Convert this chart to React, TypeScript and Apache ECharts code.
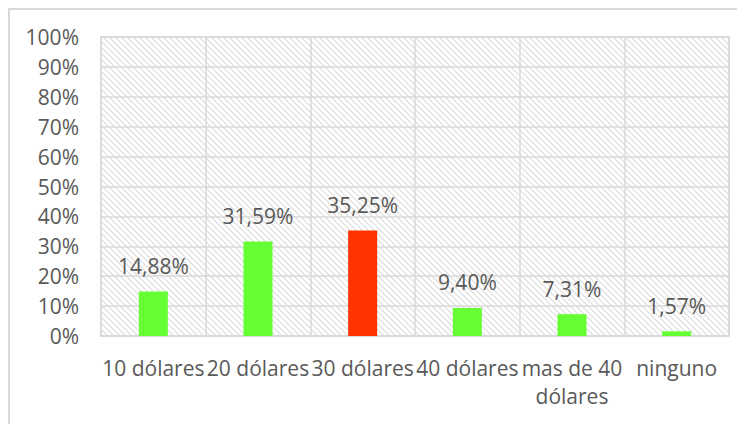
import React, { useEffect, useRef } from "react";
import * as echarts from "echarts";

const categories = ["10 dólares", "20 dólares", "30 dólares", "40 dólares", "mas de 40 dólares", "ninguno"];
const values = [14.88, 31.59, 35.25, 9.4, 7.31, 1.57];
const barColors = ["#66ff33", "#66ff33", "#ff3300", "#66ff33", "#66ff33", "#66ff33"];
const yTicks = [0, 10, 20, 30, 40, 50, 60, 70, 80, 90, 100];

function makeHatch(): string {
  const s = 6;
  const c = document.createElement("canvas");
  c.width = s;
  c.height = s;
  const ctx = c.getContext("2d")!;
  ctx.fillStyle = "#ffffff";
  ctx.fillRect(0, 0, s, s);
  ctx.strokeStyle = "#dcdcdc";
  ctx.lineWidth = 1.2;
  ctx.beginPath();
  ctx.moveTo(-1, -1);
  ctx.lineTo(s + 1, s + 1);
  ctx.moveTo(-1, s - 1);
  ctx.lineTo(1, s + 1);
  ctx.moveTo(s - 1, -1);
  ctx.lineTo(s + 1, 1);
  ctx.stroke();
  return c.toDataURL();
}

export default function App() {
  const ref = useRef<HTMLDivElement>(null);
  useEffect(() => {
    if (!ref.current) return;
    const chart = echarts.init(ref.current, undefined, { renderer: "svg" });
    const font = "'Open Sans', sans-serif";
    const txt = "#595959";
    chart.setOption({
      animation: false,
      graphic: [
        {
          type: "rect",
          shape: { x: 1, y: 1, width: 900, height: 900 },
          style: { fill: "none", stroke: "#d9d9d9", lineWidth: 2 },
          silent: true,
        },
      ],
      grid: {
        left: 93,
        top: 29,
        right: 16,
        bottom: 88,
        show: true,
        borderColor: "#d9d9d9",
        borderWidth: 1.5,
        backgroundColor: { image: makeHatch(), repeat: "repeat", imageWidth: 6, imageHeight: 6 } as any,
      },
      xAxis: {
        type: "category",
        data: categories,
        axisLine: { show: true, lineStyle: { color: "#d9d9d9", width: 1.5 } },
        axisTick: { show: false },
        splitLine: { show: true, lineStyle: { color: "#d9d9d9", width: 1.5 } },
        axisLabel: {
          interval: 0,
          color: txt,
          fontFamily: font,
          fontSize: 21,
          lineHeight: 28,
          margin: 18,
          formatter: (v: string) => (v === "mas de 40 dólares" ? "mas de 40\ndólares" : v),
        },
      },
      yAxis: {
        type: "value",
        min: yTicks[0],
        max: yTicks[yTicks.length - 1],
        interval: 10,
        axisLine: { show: false },
        axisTick: { show: false },
        splitLine: { show: true, lineStyle: { color: "#d9d9d9", width: 1.5 } },
        axisLabel: {
          color: txt,
          fontFamily: font,
          fontSize: 21,
          margin: 22,
          formatter: (v: number) => v + "%",
        },
      },
      series: [
        {
          type: "bar",
          barWidth: 29,
          data: values.map((v, i) => ({ value: v, itemStyle: { color: barColors[i] } })),
          label: {
            show: true,
            position: "top",
            distance: 15,
            color: txt,
            fontFamily: font,
            fontSize: 21,
            lineHeight: 21,
            formatter: (p: any) => p.value.toFixed(2).replace(".", ",") + "%",
          },
        },
      ],
    });
    return () => chart.dispose();
  }, []);
  return <div ref={ref} style={{ width: 737, height: 416 }} />;
}
